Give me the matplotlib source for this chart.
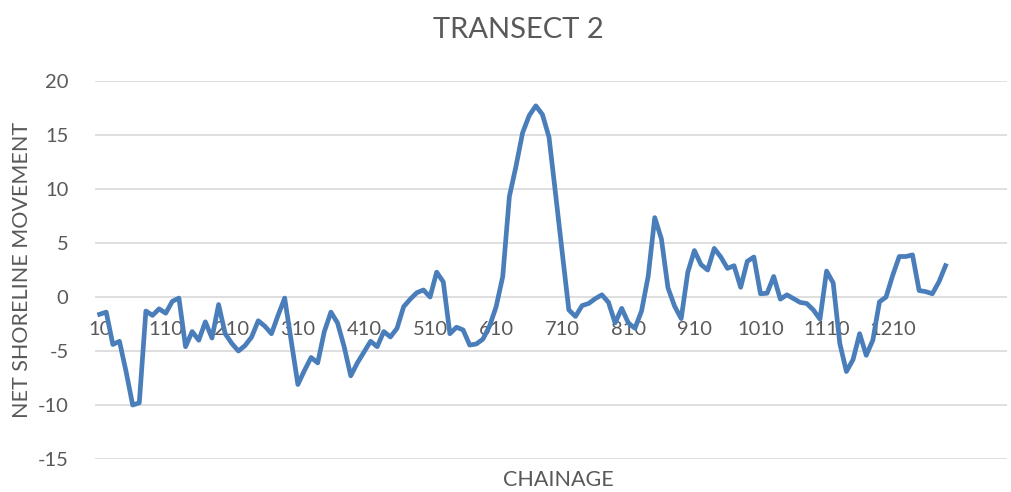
import matplotlib
matplotlib.use("Agg")
import matplotlib.pyplot as plt

# chainage categories and net shoreline movement
chainage = list(range(10, 1300, 10))
movement = [
    -1.6, -1.4, -4.4, -4.1, -6.9, -10.0, -9.8, -1.3, -1.7, -1.1,
    -1.5, -0.4, -0.1, -4.6, -3.2, -4.0, -2.3, -3.8, -0.7, -3.4,
    -4.3, -5.0, -4.5, -3.7, -2.2, -2.7, -3.4, -1.7, -0.1, -4.1,
    -8.1, -6.8, -5.6, -6.1, -3.2, -1.4, -2.4, -4.6, -7.3, -6.1,
    -5.1, -4.1, -4.6, -3.2, -3.7, -2.9, -0.9, -0.2, 0.4, 0.65,
    0.0, 2.3, 1.4, -3.4, -2.8, -3.05, -4.45, -4.35, -3.9, -2.7,
    -0.9, 1.9, 9.3, 12.1, 15.2, 16.8, 17.7, 16.9, 14.8, 9.5,
    4.1, -1.2, -1.8, -0.8, -0.6, -0.15, 0.2, -0.5, -2.4, -1.05,
    -2.4, -2.9, -1.3, 1.9, 7.35, 5.4, 0.85, -0.85, -2.0, 2.3,
    4.3, 3.0, 2.5, 4.5, 3.7, 2.65, 2.9, 0.9, 3.3, 3.7,
    0.3, 0.35, 1.9, -0.2, 0.2, -0.15, -0.5, -0.6, -1.2, -2.05,
    2.4, 1.3, -4.3, -6.9, -5.8, -3.4, -5.4, -4.0, -0.45, 0.0,
    2.0, 3.75, 3.75, 3.9, 0.6, 0.5, 0.3, 1.4, 2.9,
]
yticks = [20, 15, 10, 5, 0, -5, -10, -15]

txt = "#595959"
plt.rcParams["font.family"] = ["Lato", "DejaVu Sans"]

fig = plt.figure(figsize=(10.12, 4.92), dpi=100)
ax = fig.add_axes([95 / 1012, 33 / 492, 912 / 1012, 378 / 492])

x = list(range(len(movement)))
ax.plot(x, movement, color="#4a7ebb", linewidth=3.4, solid_joinstyle="round", zorder=3)

ax.set_ylim(-15, 20)
ax.set_xlim(-0.7, 137.3)
ax.set_yticks(yticks)
ax.set_yticklabels([str(v) for v in yticks])
ax.grid(axis="y", color="#d9d9d9", linewidth=1.2)
ax.set_axisbelow(True)

tick_pos = x[::10]
ax.set_xticks(tick_pos)
ax.set_xticklabels([str(chainage[i]) for i in tick_pos])
ax.spines["bottom"].set_position(("data", 0))
for s in ["top", "right", "left", "bottom"]:
    ax.spines[s].set_visible(False)
ax.tick_params(axis="x", length=0, pad=17, labelsize=14.5, labelcolor=txt)
ax.tick_params(axis="y", length=0, pad=19, labelsize=14.5, labelcolor=txt)

fig.text(518 / 1012, 1 - 30 / 492, "TRANSECT 2", ha="center", va="center",
         fontsize=21, color=txt)
fig.text(22 / 1012, 1 - 270 / 492, "NET SHORELINE MOVEMENT", ha="center", va="center",
         rotation=90, fontsize=15.5, color=txt)
fig.text(558 / 1012, 1 - 480 / 492, "CHAINAGE", ha="center", va="center",
         fontsize=15.5, color=txt)

fig.savefig("out.png", dpi=100)
